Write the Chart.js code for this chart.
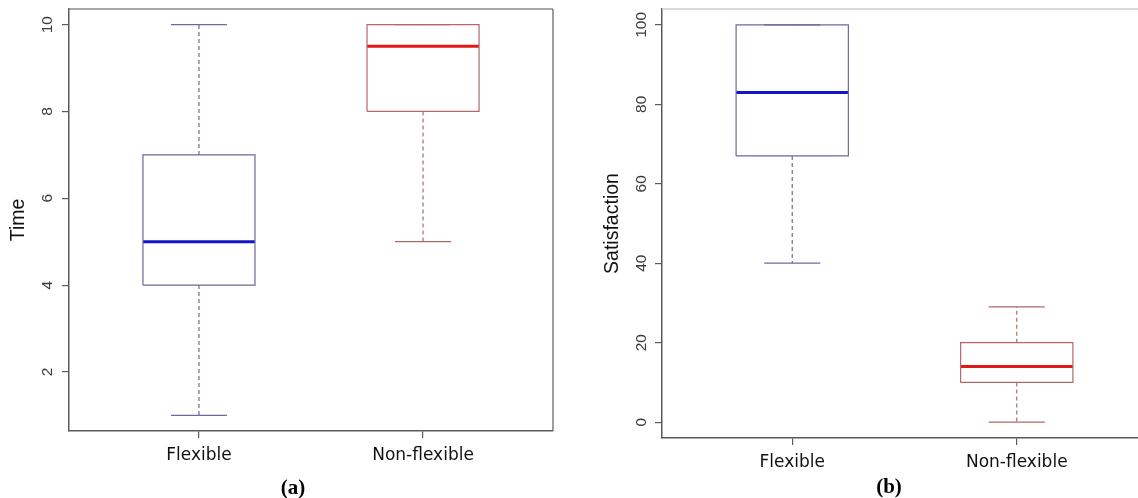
<!DOCTYPE html>
<html>
<head>
<meta charset="utf-8">
<script src="https://cdn.jsdelivr.net/npm/chart.js@4"></script>
<style>
  html, body { margin: 0; padding: 0; background: #fff; }
  body { width: 1138px; height: 498px; overflow: hidden; position: relative; }
  canvas { position: absolute; top: 0; }
  #ca { left: 0; }
  #cb { left: 570px; }
  .cap { position: absolute; font-family: "Liberation Serif", "Times New Roman", serif; font-weight: bold; font-size: 21px; line-height: 21px; transform: translate(-50%, -50%); color: #000; white-space: nowrap; }
</style>
</head>
<body>
<canvas id="ca" width="570" height="498"></canvas>
<canvas id="cb" width="600" height="498"></canvas>
<div class="cap" style="left:293px; top:487px;">(a)</div>
<div class="cap" style="left:889px; top:486px;">(b)</div>
<script>
// ---- data ----
const categories = ['Flexible', 'Non-flexible'];

const timeTicks = [2, 4, 6, 8, 10];
const timeMin = [1, 5];
const timeQ1 = [4, 8];
const timeMedian = [5, 9.5];
const timeQ3 = [7, 10];
const timeMax = [10, 10];

const satTicks = [0, 20, 40, 60, 80, 100];
const satMin = [40, 0];
const satQ1 = [67, 10];
const satMedian = [83, 14];
const satQ3 = [100, 20];
const satMax = [100, 29];

// ---- styles ----
const boxColors = ['#6a6a9c', '#b26868'];
const medianColors = ['#1414c8', '#e01818'];
const HALF = 0.25;   // half box width (x units)
const CAP = 0.125;   // half staple width (x units)
const AXIS = '#5a5a5a';

Chart.defaults.animation = false;
Chart.defaults.devicePixelRatio = 1;

function buildBoxes(mins, q1, med, q3, maxs) {
  const ds = [];
  categories.forEach((c, i) => {
    const x = i + 1, col = boxColors[i];
    const line = (pts, extra) => Object.assign({
      data: pts, showLine: true, pointRadius: 0, pointHoverRadius: 0,
      borderColor: col, borderWidth: 1.2, fill: false,
      borderJoinStyle: 'miter', borderCapStyle: 'butt'
    }, extra || {});
    ds.push(line([{x, y: q3[i]}, {x, y: maxs[i]}], {borderDash: [4, 3]}));
    ds.push(line([{x, y: q1[i]}, {x, y: mins[i]}], {borderDash: [4, 3]}));
    ds.push(line([{x: x - CAP, y: maxs[i]}, {x: x + CAP, y: maxs[i]}]));
    ds.push(line([{x: x - CAP, y: mins[i]}, {x: x + CAP, y: mins[i]}]));
    ds.push(line([
      {x: x - HALF, y: q1[i]}, {x: x + HALF, y: q1[i]},
      {x: x + HALF, y: q3[i]}, {x: x - HALF, y: q3[i]},
      {x: x - HALF, y: q1[i]}
    ]));
    ds.push(line([{x: x - HALF, y: med[i]}, {x: x + HALF, y: med[i]}],
      {borderColor: medianColors[i], borderWidth: 3}));
  });
  return ds;
}

const framePlugin = {
  id: 'frame',
  afterDraw(chart, args, opts) {
    const {ctx, chartArea: a} = chart;
    ctx.save();
    ctx.lineWidth = 1.3;
    if (opts.top) {
      ctx.strokeStyle = opts.top;
      ctx.beginPath(); ctx.moveTo(a.left, a.top); ctx.lineTo(a.right, a.top); ctx.stroke();
    }
    if (opts.right) {
      ctx.strokeStyle = opts.right;
      ctx.beginPath(); ctx.moveTo(a.right, a.top); ctx.lineTo(a.right, a.bottom); ctx.stroke();
    }
    ctx.restore();
  }
};

function makeChart(id, cfg) {
  return new Chart(document.getElementById(id), {
    type: 'scatter',
    data: { datasets: buildBoxes(cfg.mins, cfg.q1, cfg.med, cfg.q3, cfg.maxs) },
    plugins: [framePlugin],
    options: {
      responsive: false,
      layout: { padding: cfg.padding },
      plugins: {
        legend: { display: false },
        tooltip: { enabled: false },
        frame: cfg.frame
      },
      scales: {
        x: {
          type: 'linear', min: 0.42, max: 2.58,
          afterBuildTicks: s => { s.ticks = categories.map((c, i) => ({ value: i + 1 })); },
          afterFit: s => { s.height = cfg.xHeight; s.paddingLeft = 0; s.paddingRight = 0; },
          ticks: {
            autoSkip: false, maxRotation: 0, minRotation: 0,
            callback: v => categories[Math.round(v) - 1],
            font: { family: 'DejaVu Sans', size: 17 }, color: '#111',
            padding: cfg.xPad
          },
          grid: { drawOnChartArea: false, drawTicks: true, tickLength: 7, color: AXIS, lineWidth: 1.2 },
          border: { color: AXIS, width: 1.5 }
        },
        y: {
          type: 'linear', min: cfg.yMin, max: cfg.yMax,
          afterBuildTicks: s => { s.ticks = cfg.ticks.map(v => ({ value: v })); },
          afterFit: s => { s.width = cfg.yWidth; s.paddingTop = 0; s.paddingBottom = 0; },
          ticks: {
            minRotation: 90, maxRotation: 90, crossAlign: 'center',
            padding: cfg.yPad,
            font: { family: 'Liberation Sans', size: 15.5 }, color: '#3a3a3a'
          },
          grid: { drawOnChartArea: false, drawTicks: true, tickLength: 7, color: AXIS, lineWidth: 1.2 },
          border: { color: AXIS, width: 1.5 },
          title: {
            display: true, text: cfg.title,
            font: { family: 'Liberation Sans', size: 19.5 }, color: '#111',
            padding: { top: cfg.titlePad, bottom: 0 }
          }
        }
      }
    }
  });
}

makeChart('ca', {
  mins: timeMin, q1: timeQ1, med: timeMedian, q3: timeQ3, maxs: timeMax,
  ticks: timeTicks, yMin: 0.64, yMax: 10.36, title: 'Time',
  padding: { left: 0, top: 9, right: 17, bottom: 0 },
  xHeight: 67, yWidth: 69, xPad: 7, yPad: 5.5, titlePad: 6.5,
  frame: { top: '#8a8a8a', right: '#6a6a6a' }
});

makeChart('cb', {
  mins: satMin, q1: satQ1, med: satMedian, q3: satQ3, maxs: satMax,
  ticks: satTicks, yMin: -4, yMax: 104, title: 'Satisfaction',
  padding: { left: 0, top: 9, right: 23, bottom: 0 },
  xHeight: 60, yWidth: 92, xPad: 7.5, yPad: 0.5, titlePad: 31,
  frame: { top: '#cfcfcf', right: null }
});
</script>
</body>
</html>
